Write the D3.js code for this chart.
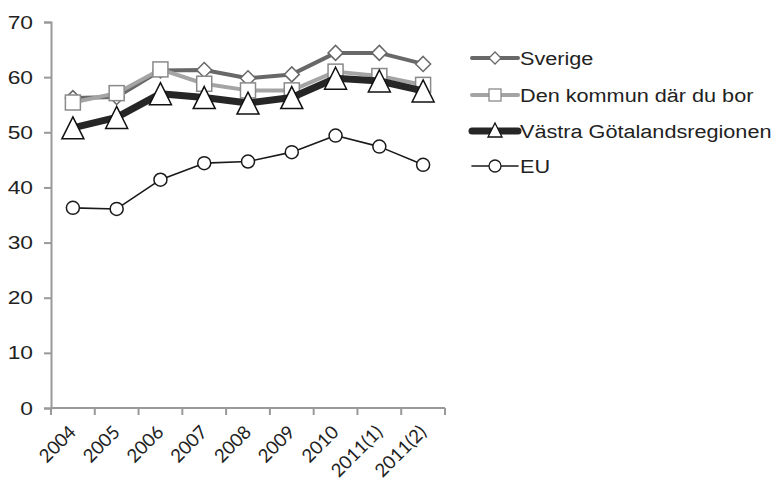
<!DOCTYPE html>
<html>
<head>
<meta charset="utf-8">
<script src="https://cdn.jsdelivr.net/npm/d3@7"></script>
<style>
  body { margin: 0; background: #fff; }
  svg { display: block; }
</style>
</head>
<body>
<svg id="chart" width="775" height="482"></svg>
<script>
const categories = ['2004', '2005', '2006', '2007', '2008', '2009', '2010', '2011(1)', '2011(2)'];
const yTicks = [0, 10, 20, 30, 40, 50, 60, 70];

const sverige = [56.2, 56.4, 61.2, 61.3, 59.8, 60.5, 64.4, 64.4, 62.4];
const kommun = [55.4, 57.1, 61.4, 58.8, 57.6, 57.6, 61.0, 60.2, 58.6];
const vastra = [50.8, 52.7, 57.0, 56.3, 55.3, 56.3, 59.8, 59.3, 57.5];
const eu = [36.3, 36.1, 41.4, 44.4, 44.7, 46.4, 49.4, 47.4, 44.1];

const series = [
  { name: 'Sverige', values: sverige, color: '#686868', width: 4, marker: 'diamond', mstroke: '#686868' },
  { name: 'Den kommun där du bor', values: kommun, color: '#a4a4a4', width: 4, marker: 'square', mstroke: '#8a8a8a' },
  { name: 'Västra Götalandsregionen', values: vastra, color: '#262626', width: 7, marker: 'triangle', mstroke: '#111' },
  { name: 'EU', values: eu, color: '#1a1a1a', width: 1.6, marker: 'circle', mstroke: '#1a1a1a' }
];

const svg = d3.select('#chart');
const plotLeft = 51, plotRight = 445, plotTop = 22, plotBottom = 408;

const x = d3.scaleBand().domain(categories).range([plotLeft, plotRight]);
const y = d3.scaleLinear().domain([0, 70]).range([plotBottom, plotTop]);
const axisColor = '#999';
const textFont = '"Liberation Sans", Arial, sans-serif';

// y axis
const yAxis = svg.append('g')
  .attr('transform', `translate(${plotLeft},0)`)
  .call(d3.axisLeft(y).tickValues(yTicks).tickSize(7).tickPadding(10));
yAxis.select('.domain').attr('stroke', axisColor).attr('stroke-width', 2);
yAxis.selectAll('.tick line').attr('stroke', axisColor).attr('stroke-width', 2);
yAxis.selectAll('.tick text')
  .attr('x', 0)
  .attr('transform', 'translate(-18,0) scale(1.2,1)')
  .attr('font-family', textFont)
  .attr('font-size', 19)
  .attr('fill', '#222');

// x axis: ticks on band edges
const xAxis = svg.append('g').attr('transform', `translate(0,${plotBottom})`);
xAxis.append('line')
  .attr('x1', plotLeft).attr('x2', plotRight)
  .attr('stroke', axisColor).attr('stroke-width', 2);
const edges = categories.map(c => x(c)).concat([plotRight]);
xAxis.selectAll('line.tk').data(edges).join('line')
  .attr('class', 'tk')
  .attr('x1', d => d).attr('x2', d => d)
  .attr('y1', 0).attr('y2', 7)
  .attr('stroke', axisColor).attr('stroke-width', 2);
xAxis.selectAll('text').data(categories).join('text')
  .attr('transform', d => `translate(${x(d) + x.bandwidth() / 2 + 1},${22}) rotate(-45)`)
  .attr('text-anchor', 'end')
  .attr('dominant-baseline', 'middle')
  .attr('font-family', 'Lato, "Open Sans", sans-serif')
  .attr('font-size', 18.5)
  .attr('fill', '#222')
  .text(d => d);

const line = d3.line()
  .x((d, i) => x(categories[i]) + x.bandwidth() / 2)
  .y(d => y(d));

function drawMarker(g, type, cx, cy, stroke) {
  if (type === 'diamond') {
    const r = 7.5;
    g.append('path')
      .attr('d', `M${cx},${cy - r}L${cx + r},${cy}L${cx},${cy + r}L${cx - r},${cy}Z`)
      .attr('fill', '#fff').attr('stroke', stroke).attr('stroke-width', 1.5);
  } else if (type === 'square') {
    const s = 7.5;
    g.append('rect')
      .attr('x', cx - s).attr('y', cy - s).attr('width', 2 * s).attr('height', 2 * s)
      .attr('fill', '#fff').attr('stroke', stroke).attr('stroke-width', 1.5);
  } else if (type === 'triangle') {
    const h = 11;
    g.append('path')
      .attr('d', `M${cx},${cy - h}L${cx + h},${cy + h}L${cx - h},${cy + h}Z`)
      .attr('fill', '#fff').attr('stroke', stroke).attr('stroke-width', 1.5);
  } else {
    g.append('circle')
      .attr('cx', cx).attr('cy', cy).attr('r', 6.5)
      .attr('fill', '#fff').attr('stroke', stroke).attr('stroke-width', 1.5);
  }
}

// draw series
series.forEach(s => {
  const g = svg.append('g');
  g.append('path')
    .attr('d', line(s.values))
    .attr('fill', 'none')
    .attr('stroke', s.color)
    .attr('stroke-width', s.width)
    .attr('stroke-linejoin', 'round');
  s.values.forEach((v, i) => {
    drawMarker(g, s.marker, x(categories[i]) + x.bandwidth() / 2, y(v), s.mstroke);
  });
});

// legend
const legend = svg.append('g');
const legendY = [58, 95, 131, 166];
series.forEach((s, i) => {
  const g = legend.append('g').attr('transform', `translate(472,${legendY[i]})`);
  g.append('line')
    .attr('x1', 0).attr('x2', 46)
    .attr('stroke', s.color)
    .attr('stroke-width', s.width)
    .attr('stroke-linecap', 'round');
  if (s.marker === 'triangle') {
    g.append('path').attr('d', 'M23,-8L30,6L16,6Z')
      .attr('fill', '#fff').attr('stroke', '#111').attr('stroke-width', 1.3);
  } else if (s.marker === 'diamond') {
    g.append('path').attr('d', 'M23,-6L29,0L23,6L17,0Z')
      .attr('fill', '#fff').attr('stroke', s.mstroke).attr('stroke-width', 1.3);
  } else if (s.marker === 'square') {
    g.append('rect').attr('x', 17).attr('y', -6).attr('width', 12).attr('height', 12)
      .attr('fill', '#fff').attr('stroke', s.mstroke).attr('stroke-width', 1.3);
  } else {
    g.append('circle').attr('cx', 23).attr('cy', 0).attr('r', 6)
      .attr('fill', '#fff').attr('stroke', s.mstroke).attr('stroke-width', 1.3);
  }
  g.append('text')
    .attr('transform', 'translate(48,0) scale(1.14,1)')
    .attr('dy', '0.35em')
    .attr('font-family', textFont)
    .attr('font-size', 19)
    .attr('fill', '#222')
    .text(s.name);
});
</script>
</body>
</html>
